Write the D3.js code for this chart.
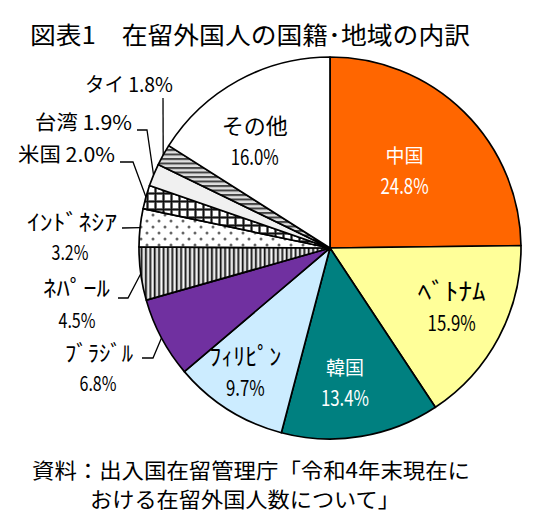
<!DOCTYPE html>
<html lang="ja">
	<head>
		<meta charset="utf-8">
		<title>在留外国人の国籍・地域の内訳</title>
		<script type="text/javascript" src="https://cdn.jsdelivr.net/npm/d3@7"></script>
		<style type="text/css">
			body { margin: 0; background: #fff; }
			text { font-family: "Noto Sans CJK JP", "Noto Sans", sans-serif; fill: #000; }
		</style>
	</head>
	<body>
		<script type="text/javascript">
			//Data
			var categories = ["中国", "ﾍﾞﾄﾅﾑ", "韓国", "ﾌｨﾘﾋﾟﾝ", "ﾌﾞﾗｼﾞﾙ", "ﾈﾊﾟｰﾙ", "ｲﾝﾄﾞﾈｼｱ", "米国", "台湾", "タイ", "その他"];
			var shares = [24.8, 15.9, 13.4, 9.7, 6.8, 4.5, 3.2, 2.0, 1.9, 1.8, 16.0];
			var title = "図表1　在留外国人の国籍･地域の内訳";
			var source = ["資料：出入国在留管理庁「令和4年末現在に", "おける在留外国人数について」"];

			//Width and height
			var w = 544;
			var h = 530;
			var cx = 330, cy = 248, R = 191;

			var fills = ["#FF6600", "#FFFF99", "#008080", "#CCECFF", "#7030A0",
						 "url(#pStripeV)", "url(#pDots)", "url(#pGrid)", "#F0F0F0", "url(#pStripeH)", "#FFFFFF"];

			//inside labels: radius fraction, angle nudge (deg), colour, font size, target width of name
			var inside = {
				"中国":   { r: 0.56, da: -0.4, color: "#fff", fs: 19 },
				"ﾍﾞﾄﾅﾑ":  { r: 0.71, da: -1.7, color: "#000", fs: 24, tw: 68 },
				"韓国":   { r: 0.71, da: 3.0, color: "#fff", fs: 19 },
				"ﾌｨﾘﾋﾟﾝ": { r: 0.79, da: 1.9, color: "#000", fs: 24, tw: 72 },
				"その他": { r: 0.68, da: -6.6, color: "#000", fs: 22 }
			};
			//outside labels: text anchor end, leader start points
			var outside = {
				"タイ":    { x: 173, y: 92, one: true, tw: 88, lead: [[163, 98]] },
				"台湾":    { x: 132, y: 130, one: true, tw: 97, lead: [[137, 130], [147, 130]] },
				"米国":    { x: 115, y: 162, one: true, tw: 97, lead: [[120, 162], [133, 162]] },
				"ｲﾝﾄﾞﾈｼｱ": { x: 117, y: 230, tw: 90, px: 70, py: 260, lead: [[122, 228]] },
				"ﾈﾊﾟｰﾙ":   { x: 110, y: 296, tw: 67, px: 77, py: 328, lead: [[118, 298], [128, 298]] },
				"ﾌﾞﾗｼﾞﾙ":  { x: 133, y: 361, tw: 68, px: 98, py: 391, lead: [[142, 358], [153, 358]] }
			};

			var fmt = function(v) { return d3.format(".1f")(v) + "%"; };

			//squeeze or stretch a text to a given width
			function fit(t, width) {
				t.attr("textLength", width).attr("lengthAdjust", "spacingAndGlyphs");
				return t;
			}
			//percent digits are narrow and tall in the original
			function narrow(t) {
				return fit(t, t.node().getComputedTextLength() * 0.8);
			}

			//Create SVG element
			var svg = d3.select("body")
						.append("svg")
						.attr("width", w)
						.attr("height", h);

			var defs = svg.append("defs");

			var p = defs.append("pattern").attr("id", "pStripeV")
						.attr("patternUnits", "userSpaceOnUse").attr("width", 4.4).attr("height", 10);
			p.append("rect").attr("width", 4.4).attr("height", 10).attr("fill", "#b4b4b4");
			p.append("rect").attr("width", 1.4).attr("height", 10).attr("fill", "#111");
			p.append("rect").attr("x", 2.5).attr("width", 1).attr("height", 10).attr("fill", "#fff");

			p = defs.append("pattern").attr("id", "pDots")
					.attr("patternUnits", "userSpaceOnUse").attr("width", 12).attr("height", 12);
			p.append("rect").attr("width", 12).attr("height", 12).attr("fill", "#fff");
			p.append("circle").attr("cx", 3).attr("cy", 3).attr("r", 1.5).attr("fill", "#666");
			p.append("circle").attr("cx", 9).attr("cy", 9).attr("r", 1.5).attr("fill", "#666");

			p = defs.append("pattern").attr("id", "pGrid")
					.attr("patternUnits", "userSpaceOnUse").attr("width", 8).attr("height", 8);
			p.append("rect").attr("width", 8).attr("height", 8).attr("fill", "#fff");
			p.append("rect").attr("x", 0).attr("width", 3).attr("height", 8).attr("fill", "#999");
			p.append("rect").attr("y", 0).attr("width", 8).attr("height", 3).attr("fill", "#999");
			p.append("rect").attr("x", 0.7).attr("width", 1.6).attr("height", 8).attr("fill", "#111");
			p.append("rect").attr("y", 0.7).attr("width", 8).attr("height", 1.6).attr("fill", "#111");

			p = defs.append("pattern").attr("id", "pStripeH")
					.attr("patternUnits", "userSpaceOnUse").attr("width", 10).attr("height", 4.5);
			p.append("rect").attr("width", 10).attr("height", 4.5).attr("fill", "#e0e0e0");
			p.append("rect").attr("width", 10).attr("height", 2).attr("fill", "#444");

			//Title
			fit(svg.append("text")
				.attr("x", 30).attr("y", 44)
				.style("font-size", "24px")
				.text(title), 440);

			var pie = d3.pie().sort(null).value(function(d) { return d; });
			var arcs = pie(shares);
			var arc = d3.arc().innerRadius(0).outerRadius(R);
			var rim = d3.arc().innerRadius(R).outerRadius(R);

			var g = svg.append("g").attr("transform", "translate(" + cx + "," + cy + ")");

			g.selectAll("path")
				.data(arcs)
				.enter()
				.append("path")
				.attr("d", arc)
				.attr("fill", function(d, i) { return fills[i]; })
				.attr("stroke", "#000")
				.attr("stroke-width", 1.7)
				.attr("stroke-linejoin", "round");

			//inside labels
			arcs.forEach(function(d, i) {
				var lab = inside[categories[i]];
				if (!lab) return;
				var a = (d.startAngle + d.endAngle) / 2 + lab.da * Math.PI / 180;
				var x = cx + lab.r * R * Math.sin(a);
				var y = cy - lab.r * R * Math.cos(a);
				var t = svg.append("text")
					.attr("x", x).attr("y", y - 8)
					.attr("text-anchor", "middle")
					.style("font-size", lab.fs + "px")
					.style("fill", lab.color)
					.text(categories[i]);
				if (lab.tw) fit(t, lab.tw);
				narrow(svg.append("text")
					.attr("x", x).attr("y", y + 23)
					.attr("text-anchor", "middle")
					.style("font-size", "21px")
					.style("fill", lab.color)
					.text(fmt(shares[i])));
			});

			//outside labels with leader lines
			var line = d3.line();
			arcs.forEach(function(d, i) {
				var lab = outside[categories[i]];
				if (!lab) return;
				var c = rim.centroid(d);
				var pts = lab.lead.concat([[cx + c[0], cy + c[1]]]);
				svg.append("path")
					.attr("d", line(pts))
					.attr("fill", "none")
					.attr("stroke", "#000")
					.attr("stroke-width", 1.3);
				if (lab.one) {
					fit(svg.append("text")
						.attr("x", lab.x).attr("y", lab.y)
						.attr("text-anchor", "end")
						.style("font-size", "20px")
						.text(categories[i] + " " + fmt(shares[i])), lab.tw);
				} else {
					fit(svg.append("text")
						.attr("x", lab.x).attr("y", lab.y)
						.attr("text-anchor", "end")
						.style("font-size", "22px")
						.text(categories[i]), lab.tw);
					narrow(svg.append("text")
						.attr("x", lab.px).attr("y", lab.py)
						.attr("text-anchor", "middle")
						.style("font-size", "20px")
						.text(fmt(shares[i])));
				}
			});

			//Source
			fit(svg.append("text")
				.attr("x", 32).attr("y", 478)
				.style("font-size", "21px")
				.text(source[0]), 438);
			fit(svg.append("text")
				.attr("x", 90).attr("y", 507)
				.style("font-size", "21px")
				.text(source[1]), 310);
		</script>
	</body>
</html>
